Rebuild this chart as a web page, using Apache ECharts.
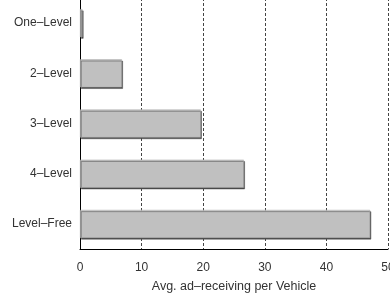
<!DOCTYPE html>
<html>
<head>
<meta charset="utf-8">
<script src="https://cdn.jsdelivr.net/npm/echarts@6/dist/echarts.min.js"></script>
<style>
  html, body { margin: 0; padding: 0; background: #fff; }
  #main { width: 390px; height: 299px; }
</style>
</head>
<body>
<div id="main"></div>
<script>
  // 数据
  var levels = ['One–Level', '2–Level', '3–Level', '4–Level', 'Level–Free'];
  var adCounts = [0.4, 6.8, 19.6, 26.6, 47.1];
  var xTicks = [0, 10, 20, 30, 40, 50];

  var chart = echarts.init(document.getElementById('main'));
  var font = 'Liberation Sans, Arial, sans-serif';

  var option = {
    animation: false,
    grid: {
      left: 80,
      right: 2,
      top: -2,
      bottom: 50,
      containLabel: false,
      outerBoundsMode: 'none'
    },
    xAxis: {
      type: 'value',
      min: xTicks[0],
      max: xTicks[xTicks.length - 1],
      interval: 10,
      name: 'Avg. ad–receiving per Vehicle',
      nameLocation: 'center',
      nameGap: 31,
      nameTextStyle: { color: '#333', fontSize: 12.5, fontFamily: font },
      axisLine: { show: true, lineStyle: { color: '#000', width: 1 } },
      axisTick: { show: false },
      axisLabel: { color: '#333', fontSize: 12, fontFamily: font, margin: 13 },
      splitLine: {
        show: true,
        lineStyle: { color: '#444', type: [3, 2], width: 1 }
      }
    },
    yAxis: {
      type: 'category',
      data: levels,
      inverse: true,
      axisLine: { show: true, lineStyle: { color: '#000', width: 1 } },
      axisTick: { show: false },
      axisLabel: { color: '#333', fontSize: 12, fontFamily: font, margin: 8 }
    },
    series: [
      {
        type: 'bar',
        data: adCounts,
        barWidth: 28,
        itemStyle: {
          color: '#c0c0c0',
          borderColor: '#a8a8a8',
          borderWidth: 0.5,
          shadowColor: '#4a4a4a',
          shadowBlur: 0,
          shadowOffsetX: 1,
          shadowOffsetY: 1.5
        }
      }
    ]
  };

  chart.setOption(option, true);
</script>
</body>
</html>
